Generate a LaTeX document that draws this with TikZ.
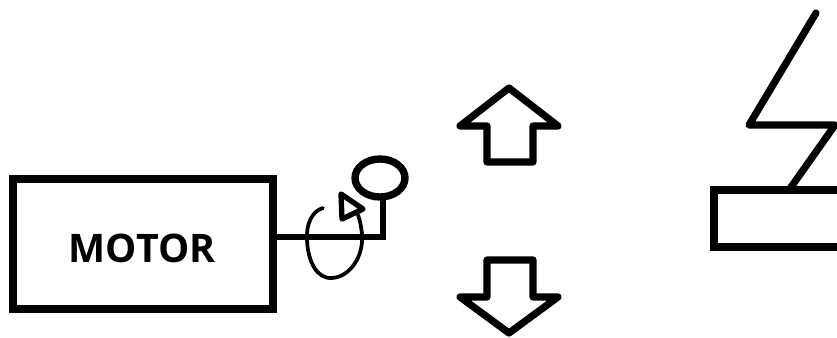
\documentclass[tikz,border=0pt]{standalone}
\usepackage{fontspec}
\setsansfont{Open Sans}
\usepackage{tikz}
\usetikzlibrary{shapes.geometric}
\tikzset{
  thickbox/.style={
    draw=black,
    rectangle,
    line width=6pt,
    inner sep=0pt,
    outer sep=0pt
  },
  motorlabel/.style={
    inner sep=0pt,
    font=\sffamily\bfseries\fontsize{29.5pt}{31pt}\selectfont
  },
  ballknob/.style={
    draw=black,
    ellipse,
    line width=5.5pt,
    inner sep=0pt,
    outer sep=0pt,
    minimum width=37.5pt,
    minimum height=28.5pt
  },
  heavy/.style={
    line width=5.4pt,
    line join=round,
    line cap=round
  },
  thin/.style={
    line width=2.8pt,
    line join=round,
    line cap=round
  }
}
\begin{document}
\begin{tikzpicture}[x=0.75pt,y=-0.75pt]
\useasboundingbox (0,0) rectangle (837,338);
\node[thickbox,minimum width=195pt,minimum height=97.5pt] (motor) at (143,244) {};
\node[motorlabel] (motortext) at (142,248.5) {MOTOR};
\node[ballknob] (ball) at (380,178) {};
\coordinate (crank) at (383,237);
\draw[line width=5pt,line join=miter] (motor.east |- crank) -- (crank) -- (crank |- ball.south);

% rotation mark
\draw[thin] (323,208) .. controls (312,211) and (306,224) .. (307,240)
  .. controls (308,262) and (317,279) .. (332,278)
  .. controls (350,277) and (364,256) .. (362,234)
  .. controls (361,226) and (360,220) .. (358,215);
\draw[line width=4pt,line join=round] (341,194) -- (342,219) -- (363,209) -- cycle;

% up and down
\draw[heavy] (509,88) -- (460,126) -- (487,126) -- (487,162) -- (533,162) -- (533,126) -- (558,126) -- cycle;
\draw[heavy] (487,260) -- (533,260) -- (533,297) -- (558,297) -- (509,333) -- (460,297) -- (487,297) -- cycle;

% bolt
\node[thickbox,line width=5.6pt,minimum width=120pt,minimum height=42.75pt] (plate) at (794,218.5) {};
\draw[heavy] (816,13) -- (749,125) -- (835,125) -- (plate.north -| 789,0);
\end{tikzpicture}
\end{document}
